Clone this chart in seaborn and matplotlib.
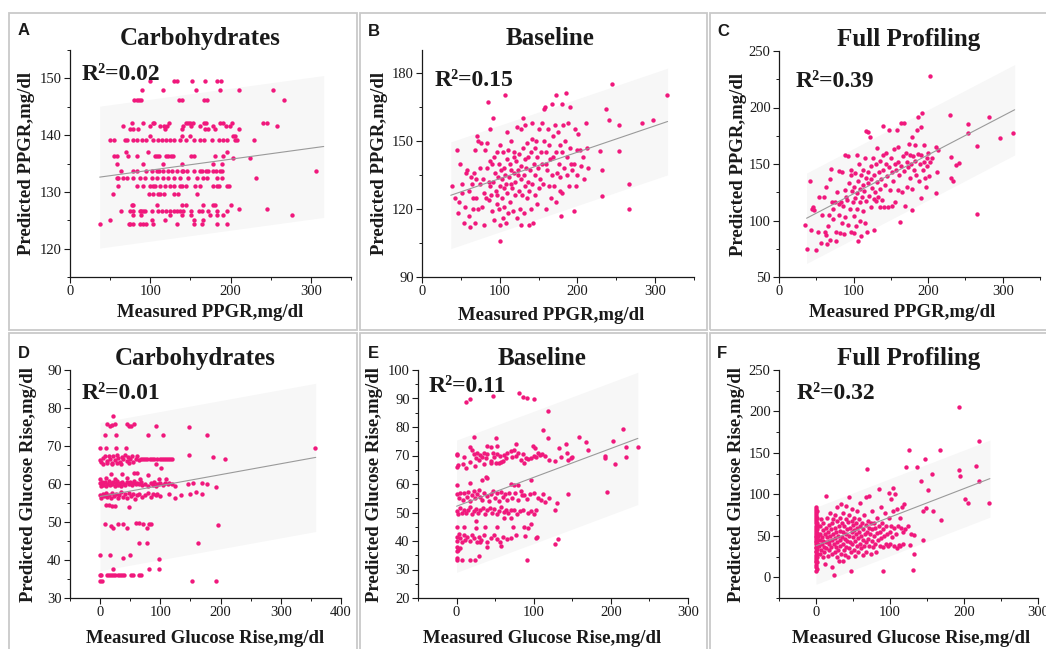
import numpy as np
import matplotlib
matplotlib.use("Agg")
import matplotlib.pyplot as plt
from matplotlib.patches import Rectangle
from matplotlib.ticker import MultipleLocator
import seaborn as sns

# ---------------------------------------------------------------------------
# Data: measured vs predicted postprandial glucose response (PPGR, mg/dl)
# ---------------------------------------------------------------------------

# Panel A - carbohydrate model, PPGR. Predictions fall on discrete levels.
carb_ppgr_rows = [
    (149.5, [100, 129, 133, 152, 168, 183, 188]),
    (147.9, [90, 116, 157, 187, 210, 253]),
    (146.2, [80, 83, 86, 88, 136, 139, 167, 171, 267]),
    (142.2, [77, 91, 103, 105, 123, 145, 147, 149, 153, 167, 170, 187, 190, 202, 240, 245]),
    (141.6, [66, 100, 112, 117, 121, 141, 151, 162, 178, 194, 199, 258]),
    (141.1, [75, 79, 85, 118, 139, 168, 172, 180, 210]),
    (139.9, [100, 139, 150, 203, 206]),
    (139.2, [50, 55, 68, 71, 78, 84, 90, 95, 103, 110, 114, 119, 124, 130, 137, 144,
             154, 162, 167, 177, 185, 190, 195, 205, 208, 229]),
    (137.1, [70, 97, 196]),
    (136.3, [55, 59, 72, 84, 106, 108, 111, 120, 122, 126, 128, 151, 154, 181, 190]),
    (135.9, [203, 224]),
    (135.0, [58, 91, 116, 140, 178, 189]),
    (133.6, [64, 79, 83, 95, 102, 108, 111, 116, 122, 127, 133, 139, 141, 146, 154, 162,
             165, 169, 172, 178, 182, 187, 189, 307]),
    (132.5, [58, 60, 66, 71, 78, 87, 93, 102, 108, 116, 122, 129, 137, 147, 158, 166,
             171, 183, 189, 232]),
    (131.0, [60, 83, 91, 100, 103, 106, 112, 118, 124, 129, 137, 140, 145, 156, 162, 178,
             183, 185, 196, 198]),
    (129.6, [54, 99, 103, 109, 112, 117, 129, 135, 158]),
    (127.6, [77, 79, 108, 139, 145, 166, 178, 180, 201]),
    (127.0, [210, 245]),
    (126.6, [63, 75, 79, 87, 89, 91, 93, 102, 110, 114, 120, 124, 129, 133, 137, 141,
             151, 161, 164, 172, 183, 195]),
    (126.0, [79, 89, 124, 139, 151, 174, 183, 191, 276]),
    (125.0, [50, 102, 118, 154, 166]),
    (124.4, [37, 73, 75, 79, 87, 91, 95, 104, 133, 154, 164, 183, 195]),
]

# Panel B - baseline model, PPGR (measured, predicted)
base_ppgr_pts = [
    (38, 130), (42, 125), (45, 146), (46, 118), (48, 123), (49, 140), (51, 131), (52, 127),
    (54, 114), (55, 121), (57, 136), (58, 137), (60, 128), (60, 117),
    (62, 112), (63, 134), (64, 131), (65, 125), (66, 120), (67, 136), (68, 146), (68, 114),
    (69, 125), (70, 133), (71, 152), (72, 150), (72, 120), (74, 138), (75, 131), (76, 149),
    (77, 121), (79, 133), (80, 127), (80, 113),
    (81, 146), (82, 125), (83, 138), (84, 149), (85, 167), (86, 132), (86, 124), (87, 130),
    (88, 155), (88, 141), (89, 126), (90, 140), (90, 119), (91, 132), (92, 160), (93, 143),
    (93, 115), (94, 136), (95, 128), (96, 126), (96, 145), (97, 122), (98, 134), (99, 120),
    (99, 140), (100, 106), (100, 130),
    (101, 148), (101, 113), (102, 137), (103, 125), (103, 133), (104, 145), (104, 116),
    (105, 129), (106, 138), (106, 121), (107, 170), (107, 135), (108, 114), (108, 131),
    (109, 142), (110, 154), (110, 127), (111, 118), (111, 146), (112, 134), (113, 123),
    (113, 140), (114, 131), (115, 137), (115, 150), (116, 129), (117, 119), (118, 143),
    (118, 136), (119, 145), (120, 126), (120, 132),
    (121, 141), (122, 156), (122, 116), (123, 137), (124, 135), (125, 144), (125, 128),
    (126, 120), (127, 133), (127, 155), (128, 113), (128, 139), (129, 126), (130, 147),
    (130, 160), (131, 118), (131, 135), (132, 142), (132, 130), (133, 157), (134, 138),
    (135, 125), (135, 149), (136, 132), (137, 143), (138, 128), (138, 113), (139, 137),
    (140, 120), (140, 145),
    (141, 151), (142, 131), (142, 158), (143, 114), (144, 140), (145, 126), (145, 147),
    (146, 135), (147, 150), (148, 122), (148, 143), (149, 138), (150, 129), (151, 155),
    (152, 133), (153, 145), (154, 140), (155, 158), (156, 131), (157, 150), (157, 164),
    (158, 165), (159, 140), (159, 120), (160, 145),
    (161, 137), (162, 155), (163, 130), (164, 148), (165, 142), (166, 125), (167, 166),
    (167, 135), (168, 152), (169, 143), (170, 130), (171, 157), (172, 123), (172, 145),
    (173, 170), (174, 136), (175, 154), (176, 140), (177, 128), (178, 148), (178, 134),
    (179, 117), (180, 166), (180, 145), (180, 127),
    (182, 157), (183, 138), (184, 150), (185, 171), (186, 143), (187, 135), (188, 158),
    (189, 130), (190, 147), (191, 165), (192, 140), (193, 137), (195, 119), (196, 140),
    (197, 155), (198, 130), (199, 146), (200, 135),
    (201, 153), (203, 146), (205, 139), (207, 143), (208, 133), (211, 158), (212, 147),
    (213, 138),
    (229, 145.5), (231, 137), (232, 125.5), (237, 164), (240, 159), (245, 175), (253, 157),
    (254, 145.5), (266, 120), (267, 131), (283, 158), (297, 159), (315, 170),
]

# Panel C - full profiling model, PPGR
full_ppgr_pts = [
    (35, 96), (38, 75), (41, 135), (43, 92), (44, 110), (45, 112), (47, 109), (50, 74),
    (52, 90), (54, 121), (56, 80), (58, 105), (60, 121), (62, 90), (63, 87), (63, 130),
    (65, 79), (66, 95), (67, 105), (68, 137), (69, 83), (70, 146), (71, 116), (72, 110),
    (73, 101), (75, 116), (77, 90), (77, 82), (78, 125), (80, 144), (80, 115), (81, 105),
    (82, 89), (83, 116), (84, 98), (85, 143), (86, 113), (87, 88), (88, 158), (88, 127),
    (89, 103), (90, 121), (91, 118), (92, 157), (93, 96), (94, 133), (95, 110), (96, 140),
    (97, 145), (97, 90), (98, 126), (99, 116), (100, 130), (100, 104), (101, 89), (102, 142),
    (102, 120), (103, 95), (104, 124), (105, 158), (105, 110), (106, 82), (106, 135),
    (107, 150), (108, 100), (108, 128), (109, 116), (110, 86), (110, 140), (111, 121),
    (112, 108), (112, 145), (113, 131), (114, 126), (115, 155), (115, 98), (116, 138),
    (117, 179), (117, 117), (118, 90), (119, 143), (120, 133), (120, 178), (121, 122),
    (122, 174), (123, 148), (124, 112), (124, 137), (125, 129), (126, 155), (127, 119),
    (128, 140), (128, 92), (129, 125), (130, 150), (130, 117), (131, 134), (132, 164),
    (133, 121), (134, 143), (135, 128), (135, 112), (136, 153), (137, 137), (138, 118),
    (139, 158), (140, 145), (140, 184), (141, 112), (142, 131), (143, 150), (144, 160),
    (145, 139), (146, 112), (147, 180), (148, 147), (149, 127), (150, 155), (151, 113),
    (152, 143), (153, 135), (154, 163), (155, 150), (156, 116), (157, 145), (158, 180),
    (159, 127), (160, 152), (160, 165), (161, 140), (162, 99), (163, 186), (164, 148),
    (165, 125), (166, 157), (167, 186), (168, 144), (169, 113), (170, 160), (171, 152),
    (172, 130), (173, 147), (174, 168), (175, 138), (176, 158), (177, 150), (178, 174),
    (178, 109), (179, 128), (180, 157), (181, 145), (182, 167), (183, 153), (184, 140),
    (185, 180), (186, 159), (187, 192), (188, 135), (189, 150), (190, 158), (190, 120),
    (191, 183), (192, 195), (193, 145), (194, 167), (195, 152), (196, 138), (197, 130),
    (198, 155), (199, 148), (200, 160), (201, 139), (202, 228), (203, 152), (205, 155),
    (210, 165), (211, 124), (212, 143), (213, 162), (229, 193), (230, 156), (230, 138),
    (234, 135), (238, 149), (241, 151), (253, 185), (254, 177), (266, 106), (266, 166),
    (281, 192), (297, 173), (314, 177),
]

# Panel D - carbohydrate model, glucose rise
carb_rise_pts = [
    (22, 78.0),
    (12, 75.8), (16, 75.2), (20, 75.4), (25, 75.8), (44, 75.8), (48, 75.2), (52, 75.3),
    (57, 75.8), (92, 75.2), (148, 75.1),
    (8, 73.0), (26, 73.0), (80, 73.0), (105, 73.0), (178, 73.0),
    (0, 69.5), (10, 69.5), (27, 69.5), (43, 69.5), (357, 69.5),
    (147, 67.6), (187, 67.2), (207, 66.5),
    (0, 66.3), (2, 65.8), (5, 66.8), (8, 67.3), (11, 66.0), (14, 67.5), (17, 66.6),
    (19, 65.6), (22, 67.4), (25, 66.2), (28, 67.6), (30, 66.9), (33, 65.7), (36, 67.2),
    (38, 66.5), (41, 67.6), (44, 66.0), (46, 67.0), (50, 66.5), (53, 67.4), (55, 65.9),
    (59, 66.7), (62, 67.3), (64, 66.2), (68, 66.5), (72, 66.5), (75, 66.5), (78, 66.5),
    (83, 66.5), (86, 66.5), (89, 66.5), (93, 65.2), (95, 66.5), (99, 66.5), (101, 64.2),
    (103, 66.5), (106, 66.5), (109, 66.5), (113, 66.5), (116, 66.5), (119, 66.5),
    (5, 65.3), (12, 65.5), (20, 65.2), (28, 65.4), (35, 65.3), (48, 65.5),
    (18, 62.7), (36, 62.7), (57, 62.8), (62, 62.8), (80, 62.5), (97, 61.3),
    (0, 61.3), (10, 61.5), (25, 61.2), (44, 61.5), (66, 61.2), (110, 61.4),
    (0, 60.2), (1, 59.6), (3, 60.6), (5, 59.8), (8, 60.4), (10, 59.5), (12, 60.1),
    (14, 60.7), (16, 59.7), (18, 60.3), (20, 59.9), (22, 60.5), (24, 59.6), (26, 60.2),
    (28, 60.8), (30, 59.8), (33, 60.3), (35, 59.6), (37, 60.5), (40, 60.0), (42, 59.7),
    (45, 60.4), (48, 60.0), (50, 60.6), (53, 59.8), (55, 60.2), (57, 60.7), (60, 59.9),
    (62, 60.3), (65, 60.0), (68, 60.4), (70, 59.7), (75, 60.1), (80, 59.6), (85, 60.2),
    (88, 59.8), (90, 60.4), (93, 59.6), (95, 60.1), (98, 59.9), (100, 60.3), (104, 59.7),
    (108, 60.2), (112, 60.0), (115, 60.3), (120, 60.0), (125, 59.5), (146, 60.1),
    (155, 60.2), (170, 60.3), (178, 60.1), (193, 59.1),
    (0, 57.0), (2, 56.4), (4, 57.5), (6, 56.8), (9, 57.7), (12, 56.5), (15, 57.2),
    (18, 56.3), (20, 57.6), (23, 56.9), (26, 57.4), (29, 56.2), (32, 57.0), (35, 57.8),
    (38, 56.6), (42, 57.3), (45, 56.2), (48, 57.6), (52, 56.8), (55, 57.3), (58, 56.1),
    (62, 57.0), (65, 57.5), (70, 56.6), (75, 57.2), (80, 57.6), (85, 56.5), (88, 57.4),
    (92, 57.0), (95, 57.3), (100, 56.8), (115, 57.5), (125, 56.2), (135, 57.2),
    (150, 57.4), (160, 58.0), (170, 57.5),
    (10, 54.5), (15, 54.5), (20, 54.2), (25, 54.3), (48, 54.0),
    (8, 49.6), (18, 49.0), (22, 48.5), (30, 49.4), (38, 49.6), (44, 48.5), (60, 49.7),
    (65, 49.7), (72, 49.5), (78, 48.5), (82, 49.6), (85, 49.6), (196, 49.1),
    (64, 44.5), (78, 44.5), (162, 44.5),
    (0, 41.2), (17, 41.2), (50, 41.2), (38, 40.4), (97, 40.3),
    (21, 37.7), (82, 37.6), (98, 37.6),
    (0, 36.0), (2, 36.0), (12, 36.0), (15, 36.0), (18, 36.0), (22, 36.0), (25, 36.0),
    (30, 36.0), (33, 36.0), (37, 36.0), (40, 36.0), (52, 36.0), (55, 36.0), (65, 36.0),
    (68, 36.0),
    (0, 34.4), (3, 34.4), (153, 34.4), (192, 34.4),
]

# Panel E - baseline model, glucose rise
base_rise_pts = [
    (12, 88.8), (18, 89.7), (47, 90.8), (81, 91.8), (86, 90.4), (91, 90.3), (100, 89.7),
    (119, 85.7), (112, 79.0), (216, 79.3), (119, 76.2), (22, 76.6), (51, 76.2), (159, 76.5),
    (168, 74.8), (203, 75.2), (77, 74.2), (220, 73.1), (235, 73.0), (133, 72.8), (170, 72.0),
    (99, 73.3), (102, 72.8), (17, 73.0), (20, 72.0), (40, 73.2), (45, 73.1), (52, 73.2),
    (142, 74.0),
    (0, 70.6), (0, 70.2), (10, 69.5), (18, 67.8), (23, 70.5), (25, 69.0), (27, 70.8),
    (29, 68.5), (31, 70.2), (33, 69.6), (36, 71.0), (38, 69.0), (40, 70.5), (44, 68.0),
    (47, 70.8), (49, 69.3), (51, 67.5), (53, 70.6), (56, 69.8), (58, 67.8), (60, 68.0),
    (62, 70.2), (64, 69.0), (66, 70.8), (70, 71.5), (72, 69.5), (75, 71.8), (77, 70.0),
    (79, 70.8), (83, 68.3), (86, 70.5), (88, 67.5), (90, 69.0), (92, 68.8), (96, 69.2),
    (100, 70.0), (103, 69.5), (105, 70.8), (108, 70.2), (111, 70.5), (115, 70.0),
    (120, 68.5), (128, 68.0), (135, 69.5), (143, 70.8), (145, 68.5), (148, 69.0),
    (150, 69.5), (193, 70.0), (193, 69.2), (205, 67.0), (220, 69.5),
    (0, 65.8), (2, 66.5), (8, 67.0), (12, 65.5), (24, 66.2), (35, 67.0), (45, 67.5),
    (55, 67.5),
    (33, 61.5), (38, 62.5), (40, 62.0), (17, 60.5), (70, 60.0), (75, 59.5), (80, 59.5),
    (96, 61.5), (0, 59.5), (85, 56.2), (195, 57.3), (145, 56.5),
    (0, 56.5), (3, 55.0), (5, 57.0), (8, 54.5), (10, 56.8), (13, 55.5), (15, 57.2),
    (18, 54.0), (20, 56.0), (22, 57.5), (24, 55.0), (27, 56.5), (29, 57.8), (31, 55.5),
    (33, 54.5), (36, 57.0), (39, 55.8), (42, 54.2), (45, 56.5), (47, 57.5), (50, 55.0),
    (52, 56.8), (55, 54.0), (58, 57.2), (60, 55.5), (63, 56.5), (66, 54.5), (68, 57.0),
    (72, 55.0), (76, 56.8), (80, 54.5), (84, 57.5), (88, 56.0), (91, 54.8), (95, 56.5),
    (100, 56.8), (105, 55.0), (110, 54.5), (112, 56.5),
    (0, 50.5), (2, 49.5), (4, 51.5), (7, 50.0), (9, 51.0), (12, 49.8), (15, 50.8),
    (18, 51.8), (20, 49.5), (22, 50.5), (25, 51.2), (28, 49.8), (31, 50.8), (34, 51.5),
    (37, 49.5), (40, 50.8), (43, 51.5), (46, 50.0), (49, 51.2), (52, 49.5), (55, 50.5),
    (58, 51.8), (61, 50.2), (64, 51.0), (67, 49.8), (70, 50.8), (74, 51.0), (78, 49.5),
    (82, 50.5), (86, 51.0), (92, 49.8), (97, 50.5), (103, 51.0),
    (62, 48.0), (25, 47.0), (70, 48.2), (100, 49.5), (115, 53.7), (127, 51.0), (130, 53.5),
    (120, 55.0),
    (0, 45.0), (10, 45.0), (25, 44.7), (37, 44.8), (53, 44.8), (73, 45.0), (88, 45.0),
    (92, 44.7), (97, 46.0),
    (0, 41.5), (1, 40.0), (3, 42.5), (5, 41.0), (7, 39.5), (9, 42.0), (11, 40.5),
    (14, 41.5), (17, 40.0), (20, 42.2), (23, 41.0), (26, 39.8), (29, 41.5), (32, 40.5),
    (36, 42.0), (40, 39.5), (44, 41.0), (48, 42.0), (52, 40.8), (56, 39.5), (60, 41.5),
    (65, 40.8), (70, 41.0), (89, 41.7), (103, 41.0), (104, 41.5), (128, 39.0), (132, 40.7),
    (0, 38.0), (5, 37.5), (39, 37.8), (57, 38.2), (77, 42.0), (0, 36.5), (2, 37.0),
    (30, 39.5),
    (0, 33.5), (0, 34.0), (7, 33.5), (18, 33.4), (24, 33.3), (29, 34.6), (91, 33.4),
]

# Panel F - full profiling model, glucose rise
full_rise_pts = [
    (0, 8), (0, 12), (0, 15), (0, 18), (0, 20), (0, 22), (0, 25), (0, 27), (0, 30),
    (0, 32), (0, 35), (0, 37), (0, 40), (0, 42), (0, 44), (0, 46), (0, 48), (0, 50),
    (0, 52), (0, 55), (0, 57), (0, 60), (0, 62), (0, 65), (0, 68), (0, 70), (0, 73),
    (0, 75), (0, 78), (0, 80), (0, 82), (0, 85),
    (1, 10), (1, 28), (2, 34), (2, 45), (1, 53), (2, 58), (1, 66), (2, 72), (1, 80),
    (2, 18), (2, 24), (3, 40), (3, 50), (3, 62), (1, 38), (1, 47),
    (4, 38), (5, 62), (5, 45), (6, 28), (6, 52), (7, 70), (7, 33), (8, 48), (8, 40),
    (9, 57), (9, 24), (10, 44), (10, 65), (11, 36), (11, 30), (12, 52), (12, 16), (13, 42),
    (13, 98), (14, 60), (14, 35), (15, 48), (15, 72), (16, 26), (16, 55), (17, 40),
    (17, 63), (18, 44), (18, 33), (19, 78), (19, 50), (20, 37), (20, 58), (21, 28),
    (21, 66), (22, 45), (22, 12), (23, 52), (23, 70), (24, 3), (24, 40), (25, 60),
    (25, 30), (26, 47), (26, 75), (27, 36), (27, 55), (28, 25), (28, 68), (29, 43),
    (29, 85), (30, 50), (30, 33), (31, 62), (31, 20), (32, 45), (32, 72), (33, 38),
    (33, 56), (34, 28), (34, 88), (35, 48), (35, 65), (36, 40), (36, 20), (37, 55),
    (37, 78), (38, 33), (38, 62), (39, 46), (39, 27), (40, 70), (40, 52), (41, 37),
    (41, 86), (42, 58), (42, 44), (43, 25), (43, 67), (44, 50), (44, 35), (45, 75),
    (45, 97), (46, 43), (46, 60), (47, 7), (47, 30), (48, 55), (48, 68), (49, 40),
    (49, 82), (50, 48), (50, 63), (51, 33), (52, 57), (52, 72), (53, 44), (53, 26),
    (54, 66), (54, 52), (55, 38), (55, 80), (56, 60), (57, 47), (57, 30), (58, 70),
    (58, 55), (59, 40), (60, 90), (60, 62), (61, 50), (61, 35), (62, 66), (63, 45),
    (63, 27), (64, 58), (65, 75), (65, 38), (66, 52), (67, 63), (67, 42), (68, 97),
    (68, 30), (69, 131), (69, 55), (70, 68), (70, 46), (71, 98), (72, 38), (72, 60),
    (73, 52), (74, 65), (74, 28), (75, 44), (76, 58), (76, 80), (77, 36), (78, 50),
    (79, 66), (80, 40), (80, 60), (81, 30), (82, 53), (83, 72), (84, 45), (85, 107),
    (85, 62), (86, 38), (87, 55), (88, 85), (88, 47), (89, 65), (90, 36), (91, 8),
    (91, 58), (92, 50), (93, 78), (94, 40), (95, 62), (96, 52), (97, 38), (98, 102),
    (99, 72), (100, 55), (100, 40), (101, 95), (102, 62), (103, 48), (104, 108), (104, 80),
    (105, 38), (106, 60), (107, 100), (108, 52), (109, 35), (110, 82), (111, 62),
    (112, 39), (113, 72), (114, 38), (115, 60), (116, 85), (117, 55), (118, 40), (119, 88),
    (120, 58), (122, 133), (124, 62), (126, 153), (127, 39), (129, 52), (131, 9), (132, 28),
    (133, 51), (136, 133), (142, 116), (144, 80), (145, 45), (147, 143), (148, 84),
    (151, 105), (157, 125), (158, 80), (168, 153), (169, 69), (193, 205), (193, 129),
    (195, 122), (201, 95), (206, 89), (216, 134), (220, 164), (220, 116), (234, 89),
]

# Fitted regression lines (end points) and half-width of the prediction band
fit_x = {"A": [37, 316], "B": [37, 316], "C": [37, 316],
         "D": [0, 358], "E": [0, 235], "F": [0, 235]}
fit_y = {"A": [132.6, 138.0], "B": [126.0, 158.5], "C": [102.0, 198.0],
         "D": [56.7, 67.0], "E": [52.2, 76.0], "F": [38.0, 119.0]}
band_half = {"A": 12.5, "B": 23.5, "C": 40.0, "D": 19.5, "E": 23.2, "F": 46.5}

r2_values = {"A": "0.02", "B": "0.15", "C": "0.39", "D": "0.01", "E": "0.11", "F": "0.32"}
titles = {"A": "Carbohydrates", "B": "Baseline", "C": "Full Profiling",
          "D": "Carbohydrates", "E": "Baseline", "F": "Full Profiling"}
xlabels = {"A": "Measured PPGR,mg/dl", "B": "Measured PPGR,mg/dl", "C": "Measured PPGR,mg/dl",
           "D": "Measured Glucose Rise,mg/dl", "E": "Measured Glucose Rise,mg/dl",
           "F": "Measured Glucose Rise,mg/dl"}
ylabels = {"A": "Predicted PPGR,mg/dl", "B": "Predicted PPGR,mg/dl", "C": "Predicted PPGR,mg/dl",
           "D": "Predicted Glucose Rise,mg/dl", "E": "Predicted Glucose Rise,mg/dl",
           "F": "Predicted Glucose Rise,mg/dl"}
xlims = {"A": (0, 350), "B": (0, 350), "C": (0, 350),
         "D": (-50, 400), "E": (-50, 300), "F": (-50, 300)}
ylims = {"A": (115, 155), "B": (90, 190), "C": (50, 250),
         "D": (30, 90), "E": (20, 100), "F": (-25, 250)}
y_major = {"A": 10, "B": 30, "C": 50, "D": 10, "E": 10, "F": 50}
y_minor = {"A": 5, "B": 15, "C": 25, "D": 5, "E": 5, "F": 25}
x_major = {"A": 100, "B": 100, "C": 100, "D": 100, "E": 100, "F": 100}

# ---------------------------------------------------------------------------
# Style
# ---------------------------------------------------------------------------
sns.set_theme(style="ticks")
plt.rcParams["font.family"] = ["Liberation Serif", "DejaVu Serif"]
plt.rcParams["axes.linewidth"] = 0.9

PINK = "#f0187c"
BAND = "#f7f7f7"
LINE = "#9a9a9a"
INK = "#1a1a1a"

W, H = 1046, 649
fig = plt.figure(figsize=(W / 100, H / 100), dpi=100)
fig.patch.set_facecolor("white")

# axes boxes in pixels: left, top, right, bottom
boxes = {
    "A": (70, 50, 351, 277), "B": (422, 50, 694, 277), "C": (779, 51, 1040, 277),
    "D": (70, 370, 341, 598), "E": (418, 370, 688, 598), "F": (779, 370, 1038, 598),
}
# panel frames in pixels: left, top, right, bottom
frames = {
    "A": (9, 13, 357, 330), "B": (360, 13, 707, 330), "C": (710, 13, 1052, 330),
    "D": (9, 333, 357, 655), "E": (360, 333, 707, 655), "F": (710, 333, 1052, 655),
}
letter_pos = {"A": (18, 23), "B": (368, 24), "C": (717, 24),
              "D": (18, 346), "E": (368, 346), "F": (717, 346)}
title_x = {"A": 0.463, "B": 0.47, "C": 0.498, "D": 0.461, "E": 0.458, "F": 0.502}
r2_pos = {"A": (0.042, 0.868), "B": (0.048, 0.841), "C": (0.064, 0.842),
          "D": (0.044, 0.873), "E": (0.041, 0.905), "F": (0.068, 0.873)}
ylab_x = {"A": -0.125, "B": -0.125, "C": -0.123, "D": -0.122, "E": -0.130, "F": -0.131}
xlab_pos = {"A": (0.50, -0.119), "B": (0.474, -0.13), "C": (0.471, -0.119),
            "D": (0.498, -0.14), "E": (0.461, -0.14), "F": (0.51, -0.14)}


def rows_to_xy(rows):
    xs, ys = [], []
    for level, xvals in rows:
        xs.extend(xvals)
        ys.extend([level] * len(xvals))
    return np.array(xs, float), np.array(ys, float)


def pts_to_xy(pts):
    arr = np.array(pts, float)
    return arr[:, 0], arr[:, 1]


panel_data = {
    "A": rows_to_xy(carb_ppgr_rows),
    "B": pts_to_xy(base_ppgr_pts),
    "C": pts_to_xy(full_ppgr_pts),
    "D": pts_to_xy(carb_rise_pts),
    "E": pts_to_xy(base_rise_pts),
    "F": pts_to_xy(full_rise_pts),
}

for key in "ABCDEF":
    # frame around the panel
    fl, ft, fr, fb = frames[key]
    fig.patches.append(Rectangle((fl / W, 1 - fb / H), (fr - fl) / W, (fb - ft) / H,
                                 transform=fig.transFigure, fill=False,
                                 edgecolor="#c9c9c9", linewidth=1.3, zorder=0))

    l, t, r, b = boxes[key]
    ax = fig.add_axes([l / W, 1 - b / H, (r - l) / W, (b - t) / H])
    ax.set_facecolor("white")

    # prediction band and fitted line
    fx = np.array(fit_x[key], float)
    fy = np.array(fit_y[key], float)
    hw = band_half[key]
    ax.fill_between(fx, fy - hw, fy + hw, color=BAND, linewidth=0, zorder=0)

    x, y = panel_data[key]
    sns.scatterplot(x=x, y=y, ax=ax, color=PINK, s=10, linewidth=0, zorder=2)
    sns.lineplot(x=fx, y=fy, ax=ax, color=LINE, linewidth=0.8, zorder=3)

    ax.set_xlim(*xlims[key])
    ax.set_ylim(*ylims[key])
    ax.xaxis.set_major_locator(MultipleLocator(x_major[key]))
    ax.xaxis.set_minor_locator(MultipleLocator(x_major[key] / 2))
    ax.yaxis.set_major_locator(MultipleLocator(y_major[key]))
    ax.yaxis.set_minor_locator(MultipleLocator(y_minor[key]))
    ax.tick_params(which="major", direction="out", length=4, width=0.8,
                   labelsize=10.5, colors=INK, pad=2)
    ax.tick_params(which="minor", direction="out", length=2.5, width=0.7, colors=INK)
    for s in ("top", "right"):
        ax.spines[s].set_visible(False)
    for s in ("left", "bottom"):
        ax.spines[s].set_color(INK)

    ax.set_xlabel(xlabels[key], fontsize=13.5, fontweight="bold", color=INK)
    ax.set_ylabel(ylabels[key], fontsize=13.5, fontweight="bold", color=INK)
    ax.xaxis.set_label_coords(*xlab_pos[key])
    ax.xaxis.label.set_verticalalignment("top")
    ax.yaxis.set_label_coords(ylab_x[key], 0.5)

    ax.set_title(titles[key], fontsize=18, fontweight="bold", color=INK,
                 x=title_x[key], pad=3.6)
    ax.text(r2_pos[key][0], r2_pos[key][1], "R\u00b2=" + r2_values[key],
            transform=ax.transAxes, fontsize=17, fontweight="bold", color=INK,
            ha="left", va="baseline")

    lx, ly = letter_pos[key]
    fig.text(lx / W, 1 - ly / H, key, fontsize=12, fontweight="bold",
             family=["Liberation Sans", "DejaVu Sans"], color=INK, ha="left", va="top")

fig.savefig("out.png", dpi=100, facecolor="white")
